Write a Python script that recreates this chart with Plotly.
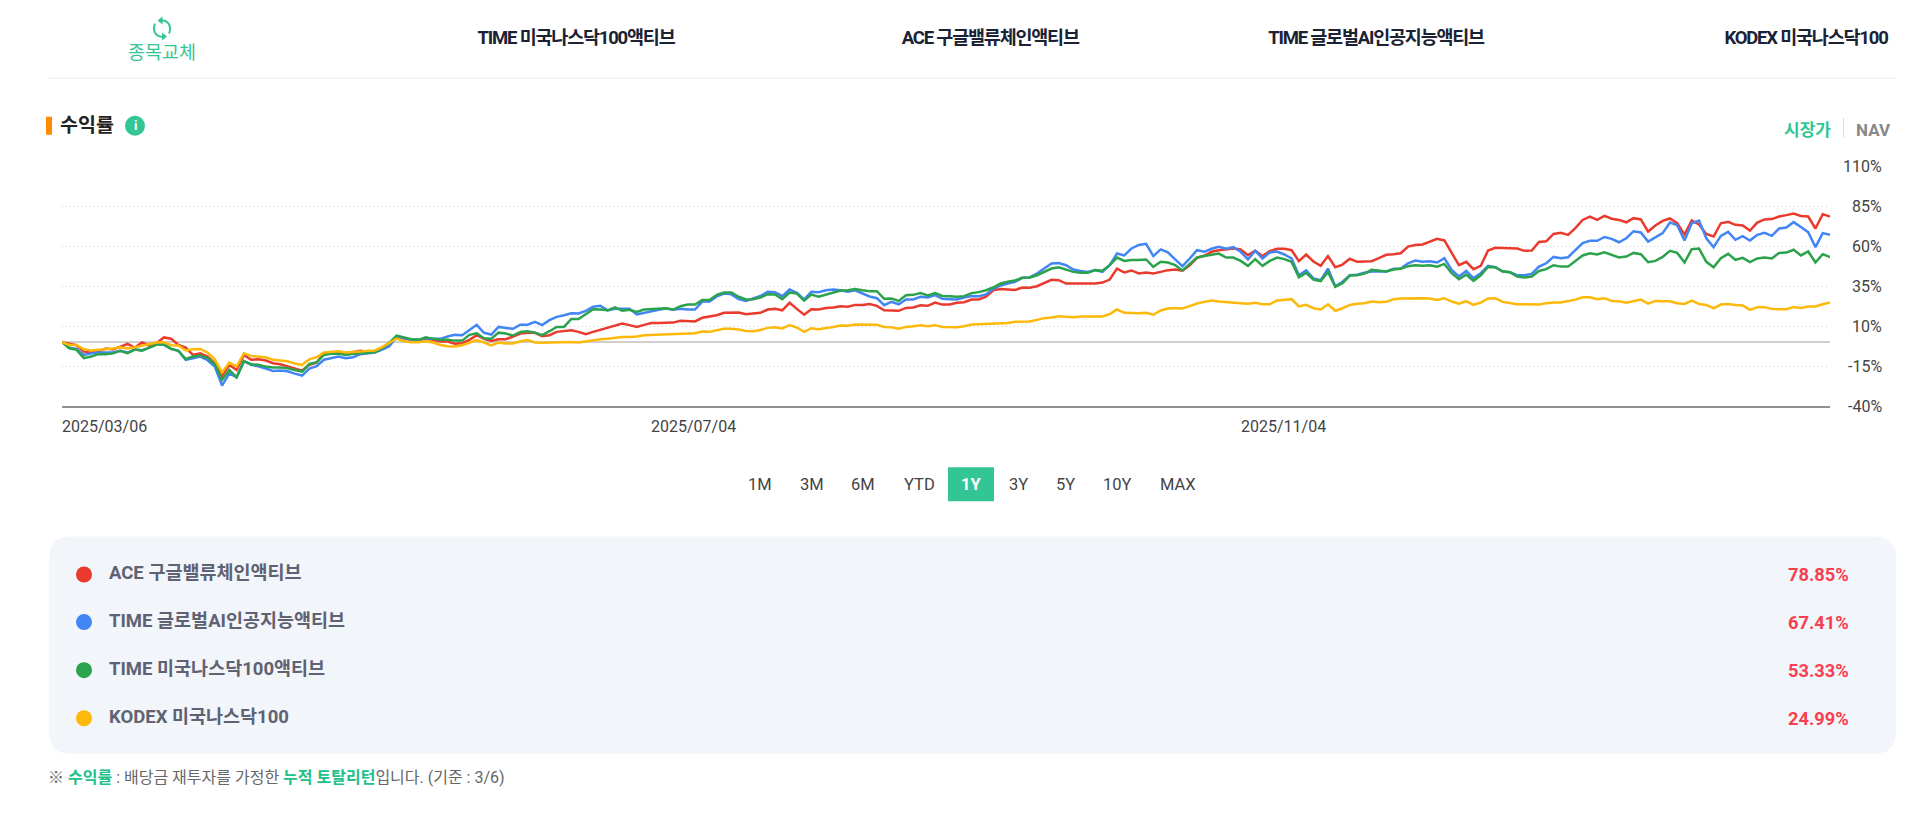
import plotly.graph_objects as go

# Values, one per trading day from 2025/03/06
ACE = [
    0, -1.1, -1.9, -5.9, -6.5, -5.9, -4, -4.6, -2.8, -1.1, -3.4, -0.2, -2.1, -0.7, 3, 2.2, -1.7, -3.4, -8, -6.9,
    -9, -13.2, -21.1, -14.2, -17.4, -8, -11, -10.7, -11.5, -13.2, -13.8, -15.3, -16.5, -17.8, -14.2, -12.8, -6.9, -6.3, -6.1, -6.9,
    -6.3, -5.4, -5.9, -5.9, -3.8, -0.6, 3.6, 2.3, 1.5, 1, 2.1, 1.5, 0.4, 0.4, -1, -0.6, 1.5, 4.4, 2.1, 0.8,
    1.9, 1.9, 3.6, 5.4, 5.9, 5.9, 3.8, 4.4, 6.5, 7.1, 7.5, 6.5, 5, 6.5, 7.9, 9.2, 10.7, 11.7, 10.7, 9.6,
    10.9, 12.1, 12.1, 12.1, 12.3, 13.4, 13.4, 13, 15.3, 15.9, 16.9, 18.4, 18.6, 18.6, 17.6, 18, 18.4, 20.5, 20.9, 20,
    24.7, 20.9, 17.2, 20.7, 20.5, 21.5, 21.8, 22.6, 22.2, 23.4, 23.4, 24, 22.8, 20, 20, 19.7, 21.5, 21.8, 23.2, 22.8,
    24.9, 23.6, 23.6, 24.7, 25.1, 26.8, 26.8, 28.5, 32.6, 33.3, 33, 32.8, 34.3, 34.1, 35.1, 37.2, 39.1, 38.9, 36.8, 36.8,
    36.8, 36.8, 36.8, 37.4, 39.3, 46.2, 43.7, 45, 43.1, 43.7, 43.1, 44.1, 45.2, 45.6, 44.8, 48.3, 52.9, 54.2, 56.7, 57.7,
    58.4, 58.8, 58.2, 54.6, 57.3, 54, 57.1, 58.6, 58.6, 57.7, 50.8, 55, 50.6, 47.9, 54, 47, 48.7, 52.3, 50.4, 50.6,
    50.8, 52.7, 54.8, 55.2, 55.8, 60, 61, 61.3, 63.1, 64.8, 63.8, 55.8, 48.3, 50.4, 45.8, 47.9, 57.5, 59.2, 59, 58.6,
    58.8, 57.3, 57.5, 62.9, 63.3, 67.9, 68.6, 67.3, 71.5, 76.7, 78.8, 76.7, 79.2, 77.4, 76.7, 75.2, 77.8, 77, 69.4, 73.2,
    76.1, 77.6, 74.6, 67.5, 76.3, 73.8, 67.9, 66.3, 74.6, 75.5, 73.6, 73.2, 70, 75, 77, 77.2, 78.8, 79.7, 80.7, 79.2,
    78.8, 71.3, 80.3, 78.85,
]
TIME_AI = [
    0, -3.4, -4.2, -8, -7, -6.5, -6.5, -6.5, -5.4, -6.5, -4.6, -5, -3.4, -1.5, -1.5, -4.2, -5.4, -11, -10, -9,
    -11.3, -15.3, -27.2, -19.6, -22, -11.9, -14.2, -15.1, -16.5, -18, -17.8, -18.2, -19.7, -20.9, -16.5, -15, -11, -10, -9, -10,
    -9.4, -7.5, -6.9, -6.5, -4.6, -2.5, 3.5, 2.5, 1.5, 1.5, 2.5, 2.1, 2.1, 3.6, 4.6, 4.4, 7.5, 10.9, 5.9, 4.8,
    9.6, 9.2, 8.4, 11, 11, 12.8, 10.7, 13.8, 15.9, 16.9, 18.2, 18, 19.7, 22.2, 22.8, 20, 21, 21, 21, 17.4,
    18.4, 19.7, 20.3, 21.1, 20.3, 21, 20.5, 20.5, 25.5, 25.5, 28.7, 30.5, 30, 27, 25.9, 27.4, 29, 31.6, 31.4, 28.9,
    33, 31, 26.8, 31.6, 31.4, 32.6, 33, 32.6, 31.6, 32.6, 30.5, 28.7, 27.6, 23.2, 25.3, 23.8, 26.8, 26.8, 28.5, 28,
    29.5, 27.2, 27, 26.8, 28, 29, 28.9, 30, 33.5, 35.6, 36.8, 37.9, 40.4, 40.6, 43.1, 46, 49.4, 49.6, 48.3, 45.6,
    44.6, 44.1, 45.2, 44.1, 48.3, 55.6, 54.4, 58.8, 61, 61.7, 54, 58.2, 56.3, 51.9, 47.7, 52.5, 57.7, 56.7, 58.6, 59.8,
    58.6, 59.6, 56.7, 51.9, 57.3, 52.5, 56.3, 56.9, 55, 52.5, 42, 45, 40, 38.9, 46.2, 35.1, 37.9, 42, 42.3, 43.5,
    44.3, 44.3, 44.3, 46, 46.2, 49.5, 51.2, 50.4, 50.8, 50, 52.7, 45.4, 41.2, 44.7, 40.2, 43.3, 47.9, 47, 44.3, 43.9,
    42, 42, 42.8, 47.4, 49.5, 53.5, 52.7, 53.3, 57.9, 62.1, 63.6, 63.6, 66, 64.8, 62.7, 65.2, 69.6, 68.8, 63.1, 65.6,
    68.4, 75, 73.4, 63.8, 74.6, 76.3, 65.2, 59.6, 66.7, 69.2, 64.2, 66.5, 63.8, 67.3, 68.6, 66.7, 71.3, 71.9, 75.3, 72.3,
    69, 59.6, 68.4, 67.41,
]
TIME_NASDAQ = [
    0, -3.8, -4.8, -10, -9, -7.5, -7.5, -7, -5.4, -6.9, -4.6, -5.4, -3.4, -1.5, -1.5, -4.2, -5.4, -10.5, -9, -8.4,
    -10, -13.8, -23.6, -17.4, -22, -11.9, -13.8, -14.2, -15.3, -15.9, -15.9, -16.3, -17.4, -18.4, -13.6, -12.6, -8, -7.3, -7.1, -8,
    -7.3, -6.9, -6.5, -6.3, -3.8, -0.2, 4.2, 2.9, 1.9, 1.5, 3.1, 2.1, 1.5, 1.5, 1, 1, 4.6, 5.6, 2.5, 2.2,
    6, 5.4, 4.2, 6.5, 6.9, 6, 4.4, 6.9, 9.6, 9.6, 14.6, 14.6, 17.6, 20.7, 20.5, 20, 21.8, 19.7, 20.3, 19,
    20.5, 20.7, 20.9, 21.3, 20.5, 22.6, 23.6, 23.6, 26.4, 26.4, 29.7, 31.2, 31.2, 28.5, 26.8, 27, 28, 30.1, 29.9, 27,
    31.2, 30.5, 26.1, 29.9, 28.5, 29.9, 31.4, 32.4, 32.6, 33.3, 32.6, 32, 32, 27.2, 27.4, 25.9, 29.5, 29.7, 30.8, 29.4,
    30.8, 29, 28.9, 28.5, 28.9, 30.8, 31.4, 32.6, 34.3, 36.8, 37.9, 38.7, 40.4, 40.6, 42, 44.1, 46.2, 47, 45.6, 44.1,
    43.5, 43.5, 45.2, 44.8, 48.3, 53.1, 51, 51.5, 51.5, 51.9, 47.3, 50.4, 50, 48.3, 45, 49, 53.1, 54, 54.6, 55.6,
    53.1, 53.1, 51, 47.9, 52.1, 47.9, 51, 53.1, 52.1, 50.4, 40.8, 43.5, 39.3, 38.3, 44.1, 34.7, 37, 41.8, 42, 43,
    45.4, 44.7, 44.3, 45.6, 46, 47.7, 48.3, 47.9, 48.3, 47.4, 49.1, 43.3, 39.5, 42.4, 38.5, 42, 47.2, 47, 44.5, 43.9,
    41.2, 40.6, 41.2, 44.7, 45.8, 48.3, 47.4, 47.4, 51.2, 54.4, 55.8, 55, 56.4, 54.6, 53.1, 53.7, 56, 55.2, 50.2, 51,
    53.5, 57.3, 56, 50, 58.3, 58.7, 50.4, 47, 52.7, 55.4, 51.7, 52.9, 50.2, 52.5, 53.1, 52.5, 56, 56.2, 58, 54.4,
    56.9, 50, 55.2, 53.33,
]
KODEX = [
    0, -1.7, -1.7, -4.4, -5.2, -4.8, -4.8, -4, -3.2, -4, -3.2, -2.3, -1.3, -0.2, 0, -1.9, -2.1, -5.2, -4.4, -4.2,
    -6.5, -10.7, -19, -12.8, -15.3, -6.9, -8.6, -9, -9.4, -11, -11.3, -12, -13.4, -14.2, -10.7, -9.4, -6.5, -5.9, -5.7, -6.5,
    -6.3, -5.9, -5.4, -5.2, -3.1, -0.2, 2.3, 0.6, 0, 0, 0.6, -0.2, -1.7, -2.5, -2.7, -1.9, -0.2, 1.4, -0.2, -2,
    -0.2, -0.8, -0.8, 0.6, 1.3, -0.2, -0.4, -0.2, 0.2, 0.4, 0.2, -0.2, 0.6, 1.5, 1.9, 2.1, 2.9, 3.3, 3.3, 3.6,
    4.4, 4.6, 4.8, 5, 5.2, 5.4, 5.6, 5.6, 6.7, 6.5, 7.5, 8.4, 8.4, 8, 7.1, 6.9, 7.7, 9, 9.4, 8.6,
    10.7, 9.2, 6.5, 8.8, 8.2, 8.8, 9.6, 10.5, 10.3, 11.1, 11.1, 10.7, 10.9, 9.6, 9.4, 8.4, 9.6, 10, 10.7, 10,
    10.7, 9.6, 9.6, 9.4, 10, 11.1, 11.3, 11.5, 11.7, 12, 12.1, 12.8, 13, 13, 14, 15.1, 15.5, 16.3, 15.9, 15.7,
    16.1, 16.1, 16.3, 16.1, 17.6, 20.5, 18.4, 18.2, 18.2, 18.4, 17.2, 19.9, 21.1, 21.5, 21.1, 22.6, 24.3, 25.3, 26.2, 25.5,
    25.3, 24.9, 24.5, 24.1, 24.7, 23.8, 23.8, 26.2, 26.8, 27, 22.4, 23.4, 21.3, 20.5, 23.8, 19.7, 21.3, 23.4, 24.1, 24.5,
    25.5, 25.1, 25.3, 26.9, 27.4, 27.6, 27.6, 27.6, 27.4, 26.5, 27.6, 25.5, 24.1, 25.7, 23.4, 24.9, 27.4, 27.6, 25.3, 24.7,
    23.8, 23.8, 23.6, 23.6, 24.4, 24.9, 24.9, 25.7, 26.7, 28.2, 28.2, 26.9, 27.6, 25.9, 25.7, 24.7, 25.7, 26.7, 24.2, 25.9,
    25.7, 25.7, 24.4, 24, 26.1, 24, 23.4, 21.3, 23.6, 24, 23.4, 23, 20.3, 22, 22, 20.9, 20.7, 20.7, 22, 21.5,
    22.4, 22.4, 23.8, 24.99,
]

SERIES_NAMES = ["ACE 구글밸류체인액티브", "TIME 글로벌AI인공지능액티브", "TIME 미국나스닥100액티브", "KODEX 미국나스닥100"]
SERIES_VALUES = [ACE, TIME_AI, TIME_NASDAQ, KODEX]
SERIES_COLORS = ["#ea3a2d", "#4285f4", "#2ba24c", "#fdb90a"]
FINAL_RETURNS = ["78.85%", "67.41%", "53.33%", "24.99%"]

Y_TICKS = [-40, -15, 10, 35, 60, 85, 110]
Y_LABELS = ["-40%", "-15%", "10%", "35%", "60%", "85%", "110%"]
X_TICKS = [0, 81, 162]
X_LABELS = ["2025/03/06", "2025/07/04", "2025/11/04"]
RANGE_BUTTONS = ["1M", "3M", "6M", "YTD", "1Y", "3Y", "5Y", "10Y", "MAX"]
HEADER_NAMES = ["TIME 미국나스닥100액티브", "ACE 구글밸류체인액티브", "TIME 글로벌AI인공지능액티브", "KODEX 미국나스닥100"]

FONT = "Roboto, 'Noto Sans CJK KR', sans-serif"
GREEN = "#33c694"
W, H = 1920, 813
# the top is a little above 110% so plotly still draws that gridline
LEFT, RIGHT, TOP, BOTTOM = 62, 1830, 166.2, 405.8


# page pixels to paper coordinates
def px(x):
    return (x - LEFT) / (RIGHT - LEFT)


def py(y):
    return (BOTTOM - y) / (BOTTOM - TOP)


def label(x, y, text, size, color, anchor="left", bold=False):
    fig.add_annotation(
        x=px(x), y=py(y), xref="paper", yref="paper", text=text, showarrow=False,
        xanchor=anchor, yanchor="middle", borderpad=0,
        font=dict(family=FONT, size=size, color=color, weight=700 if bold else 400),
    )


def rect(x0, y0, x1, y1, color):
    fig.add_shape(type="rect", xref="paper", yref="paper", x0=px(x0), x1=px(x1), y0=py(y0), y1=py(y1),
                  fillcolor=color, line_width=0, layer="below")


def circle(cx, cy, r, color):
    fig.add_shape(type="circle", xref="paper", yref="paper", x0=px(cx - r), x1=px(cx + r), y0=py(cy - r), y1=py(cy + r),
                  fillcolor=color, line_width=0, layer="below")


def path(points, color, width=0, fill="rgba(0,0,0,0)"):
    # points: list of (command, x, y, ...) in page pixels
    parts = []
    for p in points:
        coords = [px(v) if i % 2 == 0 else py(v) for i, v in enumerate(p[1:])]
        parts.append(p[0] + " " + " ".join(str(c) for c in coords))
    fig.add_shape(type="path", xref="paper", yref="paper", path=" ".join(parts), layer="below",
                  line=dict(color=color, width=width), fillcolor=fill)


fig = go.Figure()

days = list(range(len(ACE)))
# drawn back to front: yellow ends up on top
for name, values, color in zip(SERIES_NAMES, SERIES_VALUES, SERIES_COLORS):
    fig.add_trace(go.Scatter(x=days, y=values, name=name, mode="lines",
                             line=dict(color=color, width=2.5), hoverinfo="skip"))

fig.update_xaxes(
    range=[0, 243], tickvals=X_TICKS, showticklabels=False, showgrid=False, zeroline=False,
    showline=True, linecolor="#8d9297", linewidth=2, ticks="",
)
fig.update_yaxes(
    range=[-40, 110.5], tickvals=Y_TICKS, showticklabels=False, ticks="",
    showgrid=True, gridcolor="#d0d0d0", griddash="1px,3px", gridwidth=1,
    zeroline=True, zerolinecolor="#cfcfcf", zerolinewidth=2, showline=False,
)
fig.update_layout(
    width=W, height=H, autosize=False, showlegend=False,
    paper_bgcolor="white", plot_bgcolor="white", font=dict(family=FONT),
    margin=dict(l=LEFT, r=W - RIGHT, t=TOP, b=H - BOTTOM, pad=0),
)

# axis labels, placed with the axes' own scales
for tick, text in zip(X_TICKS, X_LABELS):
    fig.add_annotation(x=tick, y=py(426.5), xref="x", yref="paper", text=text, showarrow=False,
                       xanchor="left", yanchor="middle", borderpad=0, xshift=-1,
                       font=dict(family=FONT, size=16, color="#444444"))
for tick, text in zip(Y_TICKS, Y_LABELS):
    fig.add_annotation(x=px(1883), y=tick, xref="paper", yref="y", text=text, showarrow=False,
                       xanchor="right", yanchor="middle", borderpad=0,
                       font=dict(family=FONT, size=16, color="#444444"))

# top strip
label(162, 53.5, "종목교체", 18.5, GREEN, "center")
path([("M", 161, 21), ("C", 168, 20, 172, 27, 169, 34)], GREEN, 2)
path([("M", 163, 37), ("C", 156, 38, 152, 31, 155, 24)], GREEN, 2)
path([("M", 157.5, 21), ("L", 162.5, 17), ("L", 162.5, 25), ("Z",)], GREEN, 0, GREEN)
path([("M", 167, 37), ("L", 162, 33), ("L", 162, 41), ("Z",)], GREEN, 0, GREEN)
for x, text in zip([576, 990, 1375.5, 1805.5], HEADER_NAMES):
    label(x, 38, text, 18.5, "#1a2233", "center", True)
rect(48, 78, 1896, 79, "#eeeeee")

# section heading
rect(46, 117, 52, 135, "#ff8c00")
label(58.5, 126, "수익률", 19.5, "#222222", "left", True)
circle(135, 126, 10, GREEN)
label(135, 126, "i", 13, "white", "center", True)
label(1832, 130, "시장가", 17, GREEN, "right", True)
rect(1843, 118, 1844, 138, "#dddddd")
label(1855, 130, "NAV", 17, "#888888", "left", True)

# period buttons
rect(948, 467, 994, 501, GREEN)
for x, text in zip([760, 812, 863, 919, 971.5, 1018.5, 1065.5, 1117, 1178], RANGE_BUTTONS):
    label(x, 484, text, 16.5, "white" if text == "1Y" else "#444444", "center", text == "1Y")

# summary panel
x0, y0, x1, y1, r = 49, 536, 1896, 753, 22
path([("M", x0 + r, y0), ("L", x1 - r, y0), ("Q", x1, y0, x1, y0 + r), ("L", x1, y1 - r), ("Q", x1, y1, x1 - r, y1),
      ("L", x0 + r, y1), ("Q", x0, y1, x0, y1 - r), ("L", x0, y0 + r), ("Q", x0, y0, x0 + r, y0), ("Z",)],
     "#f2f5f9", 0, "#f2f5f9")
for y, name, color, value in zip([574, 621.5, 669.5, 717.5], SERIES_NAMES, SERIES_COLORS, FINAL_RETURNS):
    circle(84, y, 8, color)
    label(107.5, y - 1, name, 18.5, "#5f6272", "left", True)
    label(1849.5, y, value, 18.3, "#f83f50", "right", True)

green_span = "<span style='color:#20c088'><b>%s</b></span>"
label(47, 777, "※ " + green_span % "수익률" + " : 배당금 재투자를 가정한 " + green_span % "누적 토탈리턴"
      + "입니다. (기준 : 3/6)", 16, "#666666")

# the header names are set tight in the reference; plotly has no letter-spacing option.
# the legend repeats the same strings further down, so only the first match of each is touched
fig.write_html("out.html", config={"displayModeBar": False},
               post_script="document.body.style.margin='0';document.body.style.overflow='hidden';"
                           "var names=%r,seen={};"
                           "document.querySelectorAll('.annotation-text').forEach(function(t){"
                           "var n=t.textContent;"
                           "if(names.indexOf(n)>=0&&!seen[n]){seen[n]=1;t.style.letterSpacing='-1.2px';}"
                           "});" % HEADER_NAMES)
